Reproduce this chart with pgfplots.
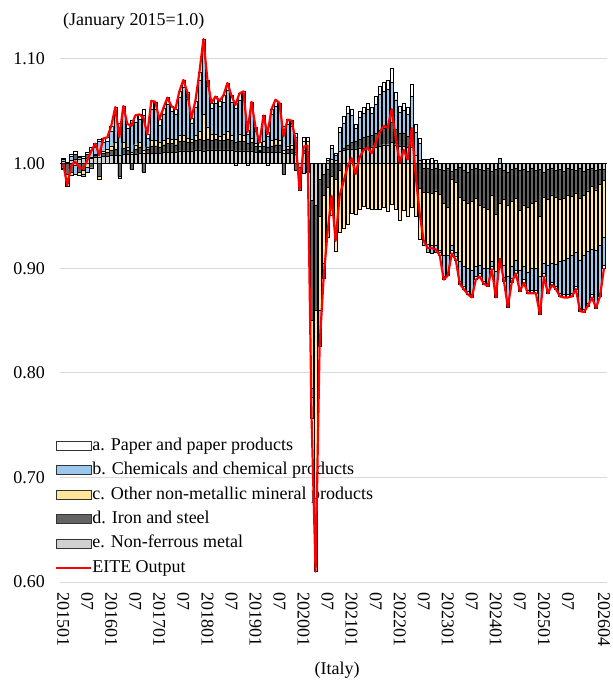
\documentclass[border=0pt]{standalone}
\usepackage{pgfplots}
\pgfplotsset{compat=1.18}
\usepackage{pgfplotstable}
\usepackage{fontspec}
\setmainfont{Liberation Serif}
\definecolor{cA}{HTML}{FFFFFF}
\definecolor{cB}{HTML}{9DC8EE}
\definecolor{cC}{HTML}{FFE699}
\definecolor{cD}{HTML}{636363}
\definecolor{cE}{HTML}{D0D0D0}
\definecolor{gridc}{HTML}{D9D9D9}
\pgfplotstableread{
i a b c d e L
0 .001 .002 -.001 -.004 .002 1.000
1 -.003 -.005 -.004 -.010 .001 0.979
2 .002 .004 -.003 -.008 .003 0.998
3 .003 -.008 -.002 .005 .004 1.002
4 .001 .002 -.003 -.008 .004 0.996
5 .002 -.002 -.004 -.006 .005 0.995
6 .002 -.005 -.003 .004 .005 1.003
7 .003 .007 .001 -.004 .005 1.012
8 .003 .007 .001 .002 .006 1.019
9 .002 .015 -.003 -.012 .006 1.008
10 .004 .008 .002 .003 .007 1.024
11 .004 .007 .003 .004 .007 1.025
12 .005 .014 .004 .005 .008 1.036
13 .008 .026 .006 .006 .008 1.054
14 .004 .027 -.002 -.012 .008 1.025
15 .006 .029 .005 .006 .009 1.055
16 .004 .018 .003 .004 .009 1.038
17 .004 .026 .002 -.005 .009 1.036
18 .006 .022 .004 .005 .009 1.046
19 .005 .022 .004 .006 .010 1.047
20 .006 .033 .003 -.008 .010 1.044
21 .004 .008 .002 .004 .010 1.028
22 .008 .030 .005 .007 .010 1.060
23 .007 .030 .005 .007 .010 1.059
24 .005 .017 .004 .006 .010 1.042
25 .006 .025 .004 .007 .011 1.053
26 .006 .033 .005 .008 .011 1.063
27 .005 .027 .004 .008 .011 1.055
28 .005 .024 .005 .007 .011 1.052
29 .006 .036 .006 .009 .012 1.069
30 .007 .046 .006 .009 .012 1.080
31 .006 .038 .004 .008 .012 1.068
32 .004 .016 .003 .008 .012 1.043
33 .006 .027 .005 .009 .013 1.060
34 .007 .049 .008 .010 .013 1.087
35 .010 .062 .025 .010 .012 1.119
36 .006 .039 .012 .010 .013 1.080
37 .005 .025 .006 .009 .013 1.058
38 .006 .030 .005 .010 .013 1.064
39 .005 .029 .004 .009 .013 1.060
40 .006 .031 .006 .009 .013 1.065
41 .007 .039 .008 .010 .013 1.077
42 .006 .032 .005 .009 .013 1.065
43 .005 .033 -.002 .008 .012 1.056
44 .006 .033 .007 .009 .012 1.067
45 .006 .036 .006 .009 .012 1.069
46 .004 .009 -.002 .007 .012 1.030
47 .006 .029 .004 .008 .012 1.059
48 .004 .012 .002 .006 .011 1.035
49 .003 .004 .001 .001 .011 1.020
50 .005 .020 .004 .006 .011 1.046
51 .004 .010 -.002 .005 .011 1.028
52 .005 .025 .005 .006 .011 1.052
53 .006 .032 .005 .007 .011 1.061
54 .006 .030 .004 .007 .011 1.058
55 .004 .019 .003 -.010 .010 1.026
56 .004 .021 .003 .004 .010 1.042
57 .005 .018 .004 .004 .010 1.041
58 .004 .014 .002 -.006 .009 1.023
59 -.002 -.010 -.002 -.008 -.003 0.975
60 .004 -.009 .008 .003 .010 1.016
61 .004 -.008 .009 .002 .010 1.017
62 -.020 -.008 -.065 -.115 -.035 0.757
63 -.045 -.025 -.180 -.100 -.040 0.610
64 -.005 -.030 -.090 -.035 -.015 0.825
65 -.003 -.012 -.065 -.020 -.010 0.890
66 .002 .003 -.047 -.018 -.005 0.935
67 .003 .011 -.037 -.012 .004 0.969
68 .002 .005 -.069 -.015 .003 0.926
69 .005 .018 -.060 -.006 .012 0.969
70 .006 .024 -.062 .002 .013 0.983
71 .007 .030 -.058 .004 .014 0.997
72 .006 .026 -.047 .006 .014 1.005
73 .004 .013 -.048 .007 .014 0.990
74 .006 .021 -.044 .008 .015 1.006
75 .006 .023 -.041 .010 .015 1.013
76 .006 .026 -.043 .011 .015 1.015
77 .006 .021 -.044 .011 .016 1.010
78 .007 .028 -.044 .013 .016 1.020
79 .008 .034 -.044 .015 .017 1.030
80 .009 .035 -.042 .016 .018 1.036
81 .009 .036 -.046 .017 .018 1.034
82 .013 .038 -.039 .020 .020 1.052
83 .007 .028 -.044 .015 .018 1.024
84 .006 .020 -.054 .012 .017 1.001
85 .007 .022 -.045 .012 .017 1.013
86 .007 .021 -.050 .010 .016 1.004
87 .012 .038 -.042 .010 .016 1.034
88 .008 .022 -.038 -.012 .008 0.988
89 .005 .016 -.048 -.024 .003 0.952
90 .004 -.005 -.046 -.023 -.004 0.926
91 .004 -.008 -.050 -.023 -.004 0.919
92 .005 -.008 -.050 -.023 -.005 0.919
93 .003 -.007 -.052 -.022 -.004 0.918
94 -.003 -.002 -.054 -.024 -.005 0.912
95 -.003 -.020 -.050 -.032 -.006 0.889
96 -.003 -.016 -.046 -.038 -.004 0.893
97 -.003 -.005 -.063 -.008 -.007 0.914
98 -.003 -.004 -.067 -.013 -.005 0.908
99 -.003 -.019 -.061 -.029 -.003 0.885
100 -.003 -.019 -.063 -.029 -.006 0.880
101 -.003 -.022 -.062 -.030 -.008 0.875
102 -.003 -.023 -.066 -.031 -.005 0.872
103 -.003 -.010 -.065 -.029 -.004 0.889
104 -.003 -.008 -.057 -.035 -.005 0.892
105 -.003 -.012 -.058 -.036 -.006 0.885
106 -.003 -.014 -.056 -.040 -.004 0.883
107 -.003 -.005 -.063 -.023 -.007 0.899
108 -.003 -.022 -.055 -.043 -.005 0.872
109 -.003 .005 -.055 -.034 -.004 0.909
110 -.003 -.012 -.063 -.028 -.006 0.888
111 -.003 -.026 -.068 -.032 -.008 0.863
112 -.003 -.012 -.062 -.031 -.005 0.887
113 -.003 -.010 -.059 -.029 -.004 0.895
114 -.003 -.017 -.057 -.039 -.006 0.878
115 -.003 -.013 -.058 -.035 -.005 0.886
116 -.003 -.017 -.062 -.035 -.007 0.876
117 -.003 -.021 -.062 -.034 -.004 0.876
118 -.003 -.021 -.064 -.030 -.006 0.876
119 -.003 -.033 -.058 -.045 -.005 0.856
120 -.003 -.010 -.063 -.024 -.008 0.892
121 -.003 -.024 -.063 -.029 -.005 0.876
122 -.003 -.018 -.065 -.026 -.004 0.884
123 -.003 -.021 -.064 -.026 -.006 0.880
124 -.003 -.031 -.059 -.029 -.005 0.873
125 -.003 -.033 -.059 -.026 -.007 0.872
126 -.003 -.035 -.060 -.026 -.004 0.872
127 -.003 -.036 -.057 -.026 -.005 0.873
128 -.003 -.032 -.057 -.022 -.006 0.880
129 -.003 -.046 -.059 -.029 -.004 0.859
130 -.003 -.051 -.058 -.023 -.007 0.858
131 -.003 -.049 -.058 -.021 -.005 0.864
132 -.003 -.043 -.060 -.018 -.004 0.872
133 -.003 -.052 -.058 -.019 -.006 0.862
134 -.003 -.046 -.058 -.015 -.005 0.873
135 -.003 -.027 -.054 -.011 -.005 0.900
}\data
\pgfplotsset{
  base/.style={
    scale only axis, width=547pt, height=544pt,
    xmin=-0.8, xmax=135.75, ymin=-0.4, ymax=0.12,
    at={(0pt,0pt)}, anchor=south west,
    axis line style={draw=none}, tick style={draw=none},
  },
  pbar/.style={fill=#1, draw=black, line width=0.35pt},
  boxleg/.style={legend image code/.code={\draw[fill=#1, draw=black!80, line width=0.5pt] (0pt,-4.5pt) rectangle (35pt,4.5pt);}},
}
\begin{document}
\begin{tikzpicture}[font=\fontsize{18}{21}\selectfont]
\begin{axis}[base, ybar stacked, bar width=3.2pt,
  ytick={-0.4,-0.3,-0.2,-0.1,0,0.1},
  yticklabels={0.60,0.70,0.80,0.90,1.00,1.10},
  ymajorgrids, major grid style={gridc, line width=1pt},
  yticklabel style={anchor=east, inner sep=0pt},
  yticklabel shift=15pt,
  xtick={0,6,12,18,24,30,36,42,48,54,60,66,72,78,84,90,96,102,108,114,120,126,135},
  xticklabels={201501,07,201601,07,201701,07,201801,07,201901,07,202001,07,202101,07,202201,07,202301,07,202401,07,202501,07,202604},
  xticklabel style={rotate=-90, anchor=west, inner sep=0pt},
  xticklabel shift=10pt,
  legend style={draw=none, fill=none, at={(-0.009,0.2665)}, anchor=north west,
    legend cell align=left, row sep=7.4pt, inner sep=0pt,
    nodes={inner sep=0pt, text height=13pt, text depth=4pt},
    /tikz/every even column/.append style={column sep=3pt}},
]
\addlegendimage{boxleg=cA}\addlegendentry{a. Paper and paper products}
\addlegendimage{boxleg=cB}\addlegendentry{b. Chemicals and chemical products}
\addlegendimage{boxleg=cC}\addlegendentry{c. Other non-metallic mineral products}
\addlegendimage{boxleg=cD}\addlegendentry{d. Iron and steel}
\addlegendimage{boxleg=cE}\addlegendentry{e. Non-ferrous metal}
\addlegendimage{legend image code/.code={\draw[draw=red, line width=2pt] (0pt,0pt) -- (35pt,0pt);}}\addlegendentry{EITE Output}
\addplot[pbar=cE, forget plot] table[x=i, y expr={max(\thisrow{e},0)}] {\data};
\addplot[pbar=cD, forget plot] table[x=i, y expr={max(\thisrow{d},0)}] {\data};
\addplot[pbar=cC, forget plot] table[x=i, y expr={max(\thisrow{c},0)}] {\data};
\addplot[pbar=cB, forget plot] table[x=i, y expr={max(\thisrow{b},0)}] {\data};
\addplot[pbar=cA, forget plot] table[x=i, y expr={max(\thisrow{a},0)}] {\data};
\end{axis}
\begin{axis}[base, ybar stacked, bar width=3.2pt, xtick=\empty, ytick=\empty]
\addplot[pbar=cE, forget plot] table[x=i, y expr={min(\thisrow{e},0)}] {\data};
\addplot[pbar=cD, forget plot] table[x=i, y expr={min(\thisrow{d},0)}] {\data};
\addplot[pbar=cC, forget plot] table[x=i, y expr={min(\thisrow{c},0)}] {\data};
\addplot[pbar=cB, forget plot] table[x=i, y expr={min(\thisrow{b},0)}] {\data};
\addplot[pbar=cA, forget plot] table[x=i, y expr={min(\thisrow{a},0)}] {\data};
\end{axis}
\begin{axis}[base, xtick=\empty, ytick=\empty]
\addplot[black, line width=0.6pt, forget plot] coordinates {(-0.8,0) (135.75,0)};
\addplot[red, line width=2.2pt, line join=round, forget plot] table[x=i, y expr={\thisrow{L}-1}] {\data};
\end{axis}
\node[anchor=base west, inner sep=0pt] at (3pt,556pt) {(January 2015=1.0)};
\node[anchor=base, inner sep=0pt] at (277pt,-92pt) {(Italy)};
\pgfresetboundingbox
\path (-60pt,-101pt) rectangle (553pt,582pt);
\end{tikzpicture}
\end{document}
